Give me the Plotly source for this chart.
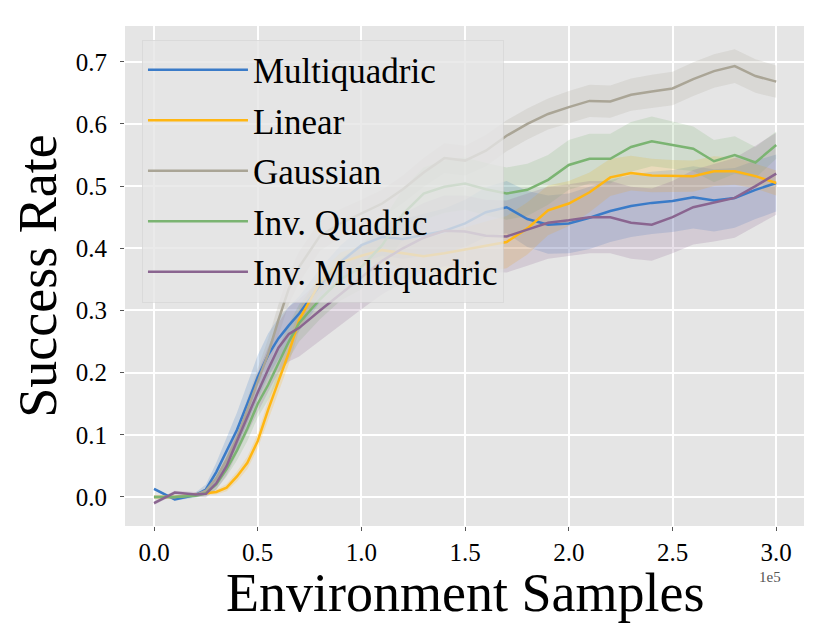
import plotly.graph_objects as go

# environment samples (in units of 1e5)
samples = [0, 0.1, 0.2, 0.25, 0.3, 0.35, 0.4, 0.45, 0.5, 0.55, 0.6, 0.65, 0.7, 0.8, 0.9,
           1.0, 1.1, 1.2, 1.3, 1.4, 1.5, 1.6, 1.7, 1.8, 1.9, 2.0, 2.1, 2.2, 2.3, 2.4, 2.5,
           2.6, 2.7, 2.8, 2.9, 3.0]

multiquadric = [0.013, -0.004, 0.003, 0.012, 0.04, 0.075, 0.108, 0.15, 0.193, 0.228, 0.255,
                0.276, 0.295, 0.34, 0.378, 0.405, 0.418, 0.415, 0.422, 0.428, 0.44, 0.458,
                0.466, 0.447, 0.438, 0.44, 0.449, 0.46, 0.468, 0.473, 0.476, 0.482, 0.477,
                0.481, 0.494, 0.505]
multiquadric_std = [0.002, 0.002, 0.004, 0.008, 0.015, 0.022, 0.028, 0.032, 0.035, 0.035, 0.033,
                    0.03, 0.028, 0.027, 0.027, 0.028, 0.03, 0.032, 0.034, 0.036, 0.038, 0.04,
                    0.042, 0.045, 0.047, 0.048, 0.05, 0.05, 0.05, 0.05, 0.05, 0.05, 0.05, 0.048,
                    0.047, 0.046]

linear = [0.0, 0.0, 0.004, 0.006, 0.008, 0.015, 0.033, 0.055, 0.09, 0.14, 0.186, 0.232, 0.285,
          0.345, 0.377, 0.388, 0.397, 0.392, 0.387, 0.392, 0.398, 0.403, 0.41, 0.432, 0.461,
          0.472, 0.49, 0.514, 0.521, 0.517, 0.516, 0.516, 0.524, 0.524, 0.516, 0.505]
linear_std = [0.002, 0.002, 0.002, 0.003, 0.004, 0.006, 0.008, 0.01, 0.012, 0.015, 0.018, 0.018,
              0.017, 0.016, 0.016, 0.017, 0.02, 0.024, 0.028, 0.032, 0.036, 0.04, 0.042, 0.042,
              0.04, 0.036, 0.032, 0.03, 0.028, 0.027, 0.026, 0.025, 0.024, 0.022, 0.02, 0.02]

gaussian = [0.0, 0.0, 0.003, 0.01, 0.03, 0.06, 0.095, 0.14, 0.185, 0.23, 0.285, 0.335, 0.37,
            0.42, 0.44, 0.456, 0.472, 0.495, 0.522, 0.545, 0.541, 0.557, 0.581, 0.6, 0.616,
            0.627, 0.637, 0.636, 0.647, 0.652, 0.657, 0.672, 0.685, 0.693, 0.677, 0.668]
gaussian_std = [0.002, 0.002, 0.003, 0.005, 0.008, 0.012, 0.016, 0.02, 0.022, 0.024, 0.025,
                0.025, 0.025, 0.024, 0.023, 0.022, 0.022, 0.022, 0.023, 0.024, 0.024, 0.025,
                0.025, 0.025, 0.025, 0.026, 0.026, 0.026, 0.026, 0.027, 0.027, 0.027, 0.027,
                0.027, 0.027, 0.026]

inv_quadric = [0.0, 0.0, 0.002, 0.006, 0.02, 0.045, 0.075, 0.11, 0.15, 0.18, 0.215, 0.25, 0.28,
               0.318, 0.35, 0.37, 0.405, 0.455, 0.488, 0.499, 0.504, 0.495, 0.488, 0.494, 0.51,
               0.534, 0.544, 0.544, 0.563, 0.572, 0.566, 0.56, 0.54, 0.55, 0.538, 0.566]
inv_quadric_std = [0.002, 0.002, 0.003, 0.005, 0.008, 0.012, 0.016, 0.02, 0.022, 0.024, 0.026,
                   0.028, 0.03, 0.032, 0.034, 0.036, 0.038, 0.04, 0.042, 0.042, 0.042, 0.042,
                   0.042, 0.042, 0.04, 0.04, 0.04, 0.04, 0.04, 0.04, 0.038, 0.036, 0.034, 0.03,
                   0.025, 0.022]

inv_multiquadric = [-0.01, 0.007, 0.004, 0.005, 0.022, 0.05, 0.09, 0.13, 0.168, 0.205, 0.24,
                    0.262, 0.272, 0.3, 0.327, 0.354, 0.38, 0.4, 0.417, 0.428, 0.427, 0.42, 0.419,
                    0.43, 0.441, 0.445, 0.45, 0.45, 0.441, 0.438, 0.45, 0.466, 0.473, 0.481, 0.5,
                    0.52]
inv_multiquadric_std = [0.003, 0.003, 0.004, 0.006, 0.01, 0.015, 0.02, 0.026, 0.032, 0.036, 0.04,
                        0.044, 0.046, 0.048, 0.05, 0.052, 0.054, 0.055, 0.056, 0.057, 0.058, 0.058,
                        0.058, 0.058, 0.058, 0.058, 0.058, 0.058, 0.058, 0.058, 0.058, 0.06, 0.062,
                        0.064, 0.065, 0.066]

names = ["Multiquadric", "Linear", "Gaussian", "Inv. Quadric", "Inv. Multiquadric"]
means = [multiquadric, linear, gaussian, inv_quadric, inv_multiquadric]
stds = [multiquadric_std, linear_std, gaussian_std, inv_quadric_std, inv_multiquadric_std]
colors = [(58, 123, 200), (255, 182, 18), (170, 165, 150), (123, 180, 114), (138, 101, 144)]

x_ticks = [0, 0.5, 1.0, 1.5, 2.0, 2.5, 3.0]
x_tick_labels = ["0.0", "0.5", "1.0", "1.5", "2.0", "2.5", "3.0"]
y_ticks = [0.0, 0.1, 0.2, 0.3, 0.4, 0.5, 0.6, 0.7]
y_tick_labels = ["0.0", "0.1", "0.2", "0.3", "0.4", "0.5", "0.6", "0.7"]

xs = [s * 1e5 for s in samples]

fig = go.Figure()

# shaded std bands
for m, s, c in zip(means, stds, colors):
    upper = [a + b for a, b in zip(m, s)]
    lower = [a - b for a, b in zip(m, s)]
    fig.add_trace(go.Scatter(
        x=xs + xs[::-1], y=upper + lower[::-1], fill="toself",
        fillcolor="rgba(%d,%d,%d,0.2)" % c, line=dict(width=0),
        hoverinfo="skip", showlegend=False))

# mean curves
for name, m, c in zip(names, means, colors):
    fig.add_trace(go.Scatter(
        x=xs, y=m, mode="lines", name=name, legendgroup=name,
        line=dict(color="rgb(%d,%d,%d)" % c, width=2.5)))

# x title and the offset label, placed by hand like matplotlib does
fig.add_annotation(x=0.5, y=-0.134, xref="paper", yref="paper", text="Environment Samples",
                   showarrow=False, xanchor="center", yanchor="middle",
                   font=dict(size=54, color="black"))
fig.add_annotation(x=0.969, y=-0.102, xref="paper", yref="paper", text="1e5",
                   showarrow=False, xanchor="right", yanchor="middle",
                   font=dict(size=15, color="#555555"))

# page body has an 8px margin, so the figure is shrunk by that much
fig.update_layout(
    width=822, height=631,
    margin=dict(l=117, r=26, t=18, b=113),
    paper_bgcolor="white", plot_bgcolor="#e5e5e5",
    font=dict(family="Liberation Serif", color="black"),
    legend=dict(x=0.025, y=0.973, xanchor="left", yanchor="top",
                bgcolor="rgba(229,229,229,0.8)", bordercolor="rgba(210,210,210,0.6)",
                borderwidth=1, font=dict(size=35), itemwidth=100, tracegroupgap=2),
    xaxis=dict(range=[-0.14e5, 3.134e5], tickvals=[t * 1e5 for t in x_ticks],
               ticktext=x_tick_labels, ticks="outside", ticklen=4, tickcolor="#555555",
               tickfont=dict(size=25), showgrid=True, gridcolor="white", gridwidth=1.5,
               zeroline=False, showline=False, automargin=False),
    yaxis=dict(range=[-0.0467, 0.7575], tickvals=y_ticks, ticktext=y_tick_labels,
               ticks="outside", ticklen=4, tickcolor="#555555", tickfont=dict(size=25),
               ticklabelstandoff=8, showgrid=True, gridcolor="white", gridwidth=1.5,
               zeroline=False, showline=False, automargin=False,
               title=dict(text="Success Rate", font=dict(size=54), standoff=4)),
)

fig.write_html("out.html")
